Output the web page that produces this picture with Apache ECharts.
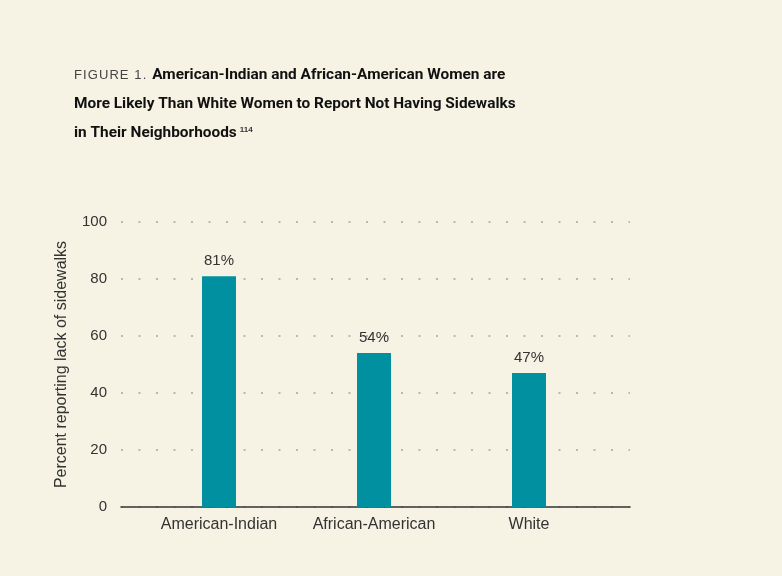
<!DOCTYPE html>
<html>
<head>
<meta charset="utf-8">
<script src="https://cdn.jsdelivr.net/npm/echarts@6/dist/echarts.min.js"></script>
<style>
  html, body { margin: 0; padding: 0; background: #f6f2e4; }
  #chart { width: 782px; height: 576px; }
</style>
</head>
<body>
<div id="chart"></div>
<script>
// data
const groups = ["American-Indian", "African-American", "White"];
const pctNoSidewalks = [81, 54, 47];
const yTicks = [0, 20, 40, 60, 80, 100];

const chart = echarts.init(document.getElementById("chart"));

const titleFont = "Roboto, 'Liberation Sans', Arial, sans-serif";
const bodyFont = "'Liberation Sans', Arial, sans-serif";
const hs = "\u200A"; // hair space for the letter-spaced figure tag

const option = {
  backgroundColor: "#f6f2e4",
  animation: false,
  title: {
    left: 69,
    top: 56,
    text:
      "{fig|" + "FIGURE 1.".split("").join(hs) + "}{gap| }{b|American-Indian and African-American Women are}\n" +
      "{b|More Likely Than White Women to Report Not Having Sidewalks}\n" +
      "{b|in Their Neighborhoods}{sup|114}",
    textStyle: {
      lineHeight: 29,
      rich: {
        fig: { fontFamily: bodyFont, fontSize: 13, color: "#444", fontWeight: "normal", lineHeight: 29 },
        gap: { fontSize: 14, width: 6, lineHeight: 29 },
        b: { fontFamily: titleFont, fontSize: 15.4, color: "#111", fontWeight: "bold", lineHeight: 29 },
        sup: { fontFamily: bodyFont, fontSize: 8, color: "#333", lineHeight: 29, padding: [0, 0, 8, 3] },
      },
    },
  },
  grid: [
    // frame: y axis, dotted grid and the baseline span the full width
    { left: 121, right: 152, top: 222, bottom: 69 },
    // bars sit in a narrower band inside it
    { left: 141.5, width: 465, top: 222, bottom: 69 },
  ],
  xAxis: [
    {
      gridIndex: 0,
      type: "value",
      min: 0,
      max: 1,
      axisLine: { show: true, lineStyle: { color: "#333", width: 1.5 } },
      axisTick: { show: false },
      axisLabel: { show: false },
      splitLine: { show: false },
    },
    {
      gridIndex: 1,
      type: "category",
      data: groups,
      axisLine: { show: false },
      axisTick: { show: false },
      axisLabel: { color: "#333", fontFamily: bodyFont, fontSize: 16, margin: 10, interval: 0 },
    },
  ],
  yAxis: [
    {
      gridIndex: 0,
      type: "value",
      min: yTicks[0],
      max: yTicks[yTicks.length - 1],
      interval: 20,
      name: "Percent reporting lack of sidewalks",
      nameLocation: "middle",
      nameGap: 51,
      nameTextStyle: { color: "#333", fontFamily: bodyFont, fontSize: 16 },
      axisLine: { show: false },
      axisTick: { show: false },
      axisLabel: { color: "#333", fontFamily: bodyFont, fontSize: 15, margin: 14 },
      splitLine: {
        show: true,
        lineStyle: { color: "#b8b7b0", width: 2, type: [2, 15.5] },
      },
    },
    {
      gridIndex: 1,
      type: "value",
      min: yTicks[0],
      max: yTicks[yTicks.length - 1],
      show: false,
      splitLine: { show: false },
    },
  ],
  series: [
    {
      type: "bar",
      xAxisIndex: 1,
      yAxisIndex: 1,
      data: pctNoSidewalks,
      barWidth: 34,
      itemStyle: { color: "#00909f" },
      label: {
        show: true,
        position: "top",
        distance: 8,
        formatter: "{c}%",
        color: "#333",
        fontFamily: bodyFont,
        fontSize: 15,
      },
      z: 3,
    },
  ],
};

chart.setOption(option);
</script>
</body>
</html>
